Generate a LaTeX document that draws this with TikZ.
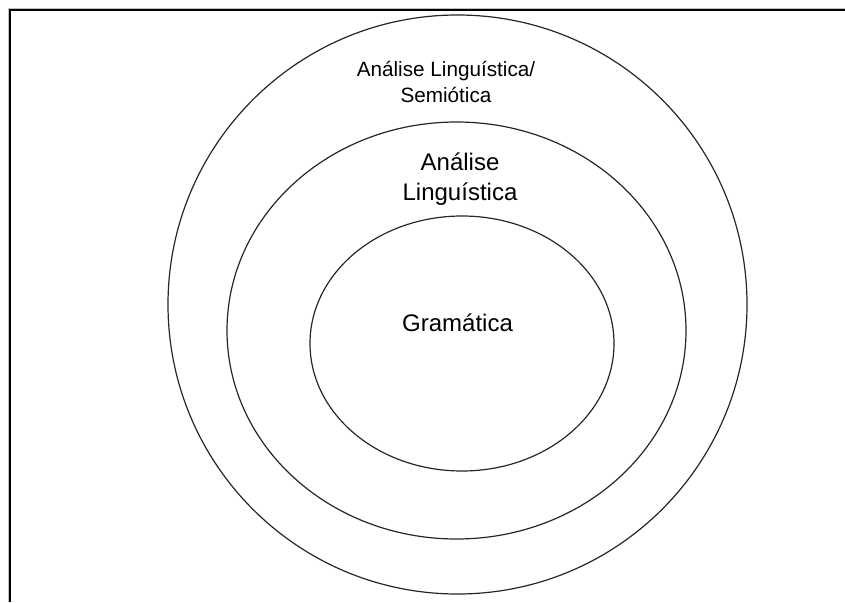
\documentclass[tikz,border=0pt]{standalone}
\usepackage{fontspec}
\setmainfont{Liberation Sans}
\begin{document}
\begin{tikzpicture}[x=1pt,y=-1pt,
  ring/.style={draw=black!85,line width=1.2pt},
  lbl/.style={inner sep=0pt,align=center,anchor=base}]
\useasboundingbox (0,0) rectangle (845,602);
% frame
\draw[black!25,line width=1.5pt] (8.3,602) -- (8.3,8.3) -- (845,8.3);
\draw[black,line width=1.7pt] (10.3,602) -- (10.3,10.3) -- (845,10.3);
% ellipses
\draw[ring] (457.5,304.5) ellipse [x radius=289.5,y radius=289.5];
\draw[ring] (456.5,330.5) ellipse [x radius=229.5,y radius=208.5];
\draw[ring] (462,343.5) ellipse [x radius=152,y radius=127.5];
% labels (base anchor = baseline of the last line)
\node[lbl,font=\fontsize{20.7}{25.6}\selectfont] (outer) at (446,102.3) {Análise Linguística/\\Semiótica};
\node[lbl,font=\fontsize{24}{30}\selectfont] (middle) at (460,200) {Análise\\Linguística};
\node[lbl,font=\fontsize{24}{30}\selectfont] (inner) at (457.5,331.7) {Gramática};
\end{tikzpicture}
\end{document}
